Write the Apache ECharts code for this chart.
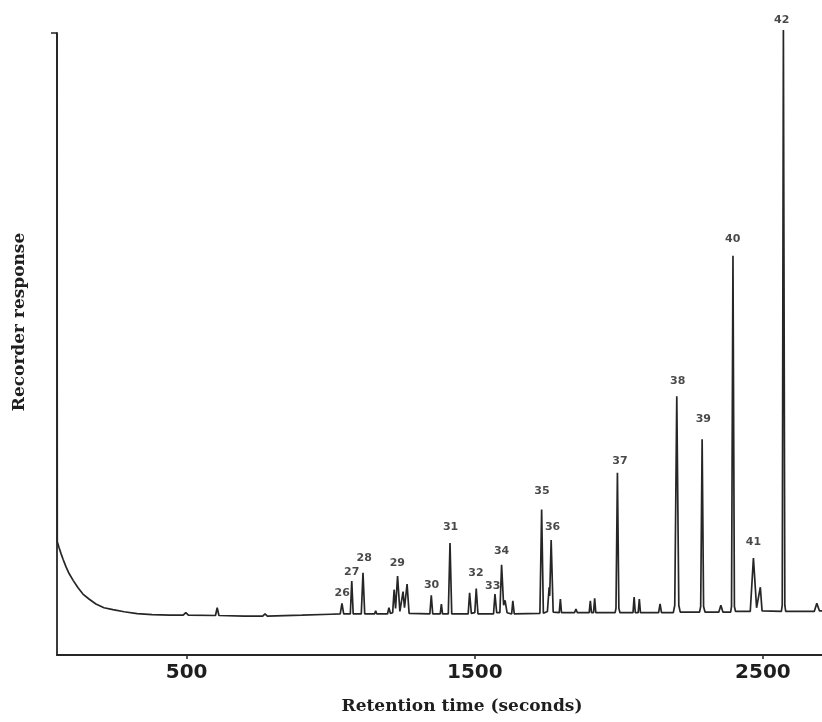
<!DOCTYPE html>
<html>
<head>
<meta charset="utf-8">
<script src="https://cdn.jsdelivr.net/npm/echarts@6/dist/echarts.min.js"></script>
<style>
html, body { margin: 0; padding: 0; background: #fff; }
#container { width: 822px; height: 722px; }
</style>
</head>
<body>
<div id="container"></div>
<script>
// retention time (s) and recorder response (arbitrary units, axis top = 100)
var retentionTimes = [
  50, 51, 57, 64, 71, 81, 92, 106, 123, 140, 161, 185, 213, 244, 283, 328, 380, 442,
  488, 497, 506, 600, 606, 612, 700, 764, 772, 780, 900, 1000,
  1033, 1039, 1045, 1068, 1073, 1078, 1106, 1112, 1118,
  1152, 1156, 1160, 1197, 1202, 1207,
  1215, 1220, 1225, 1232, 1240, 1246, 1251, 1256, 1260, 1265, 1272,
  1344, 1349, 1354, 1380, 1384, 1388, 1408, 1414, 1420,
  1477, 1482, 1488, 1500, 1505, 1511,
  1565, 1570, 1576, 1587, 1593, 1600, 1605, 1612, 1628, 1632, 1637,
  1726, 1732, 1738, 1752, 1758, 1760, 1765, 1772,
  1793, 1797, 1801, 1846, 1851, 1856,
  1897, 1901, 1905, 1912, 1916, 1920,
  1987, 1990, 1995, 2000, 2004,
  2049, 2053, 2057, 2067, 2071, 2075, 2138, 2143, 2148,
  2189, 2194, 2201, 2208, 2213,
  2280, 2284, 2289, 2294, 2299, 2347, 2354, 2361,
  2388, 2391, 2396, 2401, 2405,
  2456, 2467, 2478, 2484, 2491, 2497,
  2564, 2567, 2571, 2576, 2579,
  2678, 2687, 2696, 2705
];
var responses = [
  100, 18.2, 17.3, 16.3, 15.4, 14.2, 13.1, 12.0, 10.8, 9.8, 9.0, 8.2, 7.6, 7.3, 6.95, 6.65, 6.5, 6.4,
  6.4, 6.8, 6.4, 6.35, 7.6, 6.35, 6.25, 6.25, 6.6, 6.25, 6.4, 6.55,
  6.6, 8.3, 6.6, 6.6, 11.9, 6.6, 6.6, 13.2, 6.6,
  6.6, 7.1, 6.6, 6.6, 7.6, 6.7,
  6.8, 10.5, 7.5, 12.7, 7.0, 7.2, 10.2, 7.6, 7.5, 11.4, 6.7,
  6.6, 9.6, 6.6, 6.6, 8.2, 6.6, 6.6, 18.0, 6.6,
  6.6, 10.0, 6.7, 6.8, 10.7, 6.6,
  6.6, 9.8, 6.8, 6.8, 14.5, 8.0, 8.8, 6.8, 6.6, 8.7, 6.6,
  6.7, 23.4, 6.7, 7.0, 10.9, 9.5, 18.5, 6.9,
  6.8, 9.0, 6.8, 6.8, 7.4, 6.8,
  6.8, 8.7, 6.8, 6.8, 9.1, 6.8,
  6.8, 7.5, 29.3, 7.5, 6.8,
  6.8, 9.3, 6.8, 6.8, 9.0, 6.8, 6.8, 8.2, 6.8,
  6.8, 8.0, 41.6, 8.0, 6.9,
  6.9, 7.8, 34.7, 7.8, 6.9, 6.9, 8.0, 6.9,
  6.9, 7.8, 64.2, 7.8, 7.0,
  7.0, 15.6, 7.6, 7.8, 10.9, 7.1,
  7.0, 8.0, 100.5, 8.0, 7.0,
  7.0, 8.3, 7.1, 7.1
];

// peak numbers and where their labels sit
var peakNames = ['26', '27', '28', '29', '30', '31', '32', '33', '34', '35', '36', '37', '38', '39', '40', '41', '42'];
var peakLabelTimes = [1040, 1073, 1116, 1231, 1350, 1416, 1504, 1562, 1593, 1733, 1770, 2004, 2204, 2293, 2395, 2467, 2565];
var peakLabelHeights = [9.9, 13.3, 15.6, 14.8, 11.3, 20.6, 13.2, 11.1, 16.7, 26.4, 20.6, 31.2, 44.1, 37.9, 66.9, 18.2, 102.0];

var tickValues = [500, 1500, 2500];

var lineData = retentionTimes.map(function (t, i) { return [t, responses[i]]; });
var labelData = peakNames.map(function (n, i) {
  return { name: n, value: [peakLabelTimes[i], peakLabelHeights[i]] };
});

var element = document.getElementById('container');
var myChart = echarts.init(element);

var ink = '#262626';

var option = {
  backgroundColor: '#fff',
  animation: false,
  grid: { left: 57, top: 33, width: 765, height: 622 },
  xAxis: {
    type: 'value',
    min: 50,
    max: 2705,
    splitLine: { show: false },
    axisLine: { show: true, lineStyle: { color: ink, width: 1.8 } },
    axisTick: { show: true, customValues: tickValues, length: 4, lineStyle: { color: ink, width: 1.5 } },
    axisLabel: {
      customValues: tickValues,
      formatter: function (v) { return String(v); },
      margin: 8,
      color: '#1e1e1e',
      fontFamily: 'DejaVu Sans',
      fontWeight: 'bold',
      fontSize: 20
    }
  },
  yAxis: {
    type: 'value',
    min: 0,
    max: 100,
    splitLine: { show: false },
    axisLine: { show: true, lineStyle: { color: ink, width: 1.8 } },
    axisTick: { show: true, customValues: [100], length: 6, lineStyle: { color: ink, width: 1.5 } },
    axisLabel: { show: false }
  },
  graphic: [
    {
      type: 'text',
      x: 462, y: 707,
      style: {
        text: 'Retention time (seconds)',
        font: 'bold 17px "DejaVu Serif"',
        fill: '#1e1e1e',
        textAlign: 'center',
        textVerticalAlign: 'middle'
      }
    },
    {
      type: 'text',
      x: 20, y: 322,
      rotation: Math.PI / 2,
      style: {
        text: 'Recorder response',
        font: 'bold 17px "DejaVu Serif"',
        fill: '#1e1e1e',
        textAlign: 'center',
        textVerticalAlign: 'middle'
      }
    }
  ],
  series: [
    {
      type: 'line',
      data: lineData,
      symbol: 'none',
      clip: false,
      lineStyle: { color: ink, width: 1.7 }
    },
    {
      type: 'scatter',
      data: labelData,
      symbolSize: 0,
      clip: false,
      silent: true,
      label: {
        show: true,
        position: 'inside',
        formatter: '{b}',
        color: '#1a1a1a',
        fontFamily: 'DejaVu Sans',
        fontWeight: 'bold',
        fontSize: 11
      }
    }
  ]
};

option && myChart.setOption(option);
</script>
</body>
</html>
